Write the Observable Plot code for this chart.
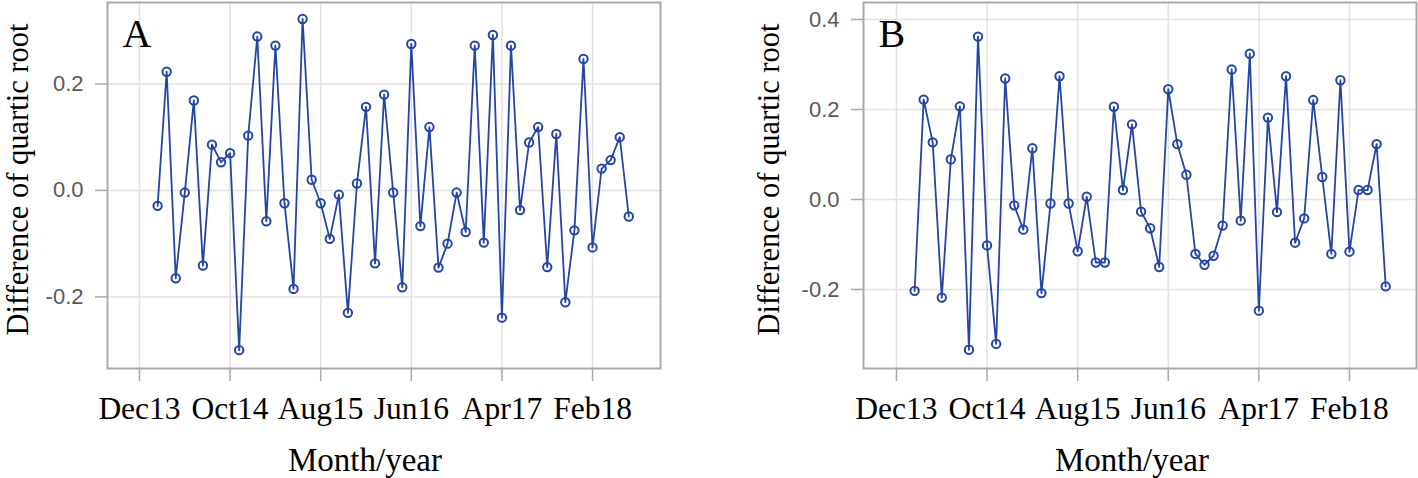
<!DOCTYPE html>
<html><head><meta charset="utf-8">
<script src="https://cdn.jsdelivr.net/npm/d3@7"></script>
<script src="https://cdn.jsdelivr.net/npm/@observablehq/plot@0.6"></script>
<style>
body{margin:0;background:#fff;}
#wrap{display:flex;width:1418px;height:478px;overflow:hidden;}
#wrap > div{width:709px;height:478px;}
</style>
</head><body><div id="wrap"><div id="pa"></div><div id="pb"></div></div>
<script>
// Month index 0 = Dec13; first observation Feb14
const tickMonths = [0, 10, 20, 30, 40, 50];
const tickLabels = ["Dec13", "Oct14", "Aug15", "Jun16", "Apr17", "Feb18"];
const firstMonth = 2;
const panelLabels = ["A", "B"];
const yLabel = "Difference of quartic root";
const xLabel = "Month/year";

const seriesA = [
  -0.029, 0.223, -0.165, -0.004, 0.169, -0.141, 0.086, 0.053, 0.070, -0.300,
  0.103, 0.289, -0.058, 0.272, -0.024, -0.185, 0.322, 0.020, -0.024, -0.091,
  -0.008, -0.230, 0.013, 0.157, -0.137, 0.180, -0.004, -0.182, 0.275, -0.067,
  0.119, -0.145, -0.100, -0.004, -0.078, 0.272, -0.098, 0.292, -0.239, 0.272,
  -0.037, 0.090, 0.119, -0.144, 0.106, -0.210, -0.075, 0.247, -0.107, 0.041,
  0.057, 0.100, -0.049
];
const seriesB = [
  -0.203, 0.222, 0.127, -0.218, 0.089, 0.207, -0.334, 0.362, -0.102, -0.321,
  0.269, -0.013, -0.067, 0.114, -0.208, -0.009, 0.274, -0.009, -0.115, 0.006,
  -0.140, -0.140, 0.206, 0.021, 0.167, -0.027, -0.064, -0.150, 0.245, 0.123,
  0.055, -0.121, -0.145, -0.125, -0.058, 0.289, -0.047, 0.324, -0.247, 0.182,
  -0.028, 0.274, -0.096, -0.042, 0.221, 0.050, -0.121, 0.265, -0.116, 0.021,
  0.021, 0.123, -0.193
];
const yTicksA = [-0.2, 0.0, 0.2];
const yTicksB = [-0.2, 0.0, 0.2, 0.4];

const blue = "#2245a6";
const gridColor = "#e2e2e2";
const frameColor = "#a7abaf";
const serif = "'Liberation Serif', 'Times New Roman', serif";
const sans = "'Liberation Sans', Arial, sans-serif";

function panel({values, yTicks, yDomain, xDomain, marginLeft, marginRight, letter, ylabDx, xlabDx}) {
  const data = values.map((v, i) => ({m: firstMonth + i, v}));
  return Plot.plot({
    width: 709,
    height: 478,
    marginLeft, marginRight,
    marginTop: 2,
    marginBottom: 110,
    x: {domain: xDomain},
    y: {domain: yDomain},
    style: {background: "white", overflow: "visible"},
    marks: [
      Plot.gridX(tickMonths, {stroke: gridColor, strokeOpacity: 1, strokeWidth: 1.5}),
      Plot.gridY(yTicks, {stroke: gridColor, strokeOpacity: 1, strokeWidth: 1.5}),
      Plot.line(data, {x: "m", y: "v", stroke: blue, strokeWidth: 1.8}),
      Plot.dot(data, {x: "m", y: "v", r: 4.2, stroke: blue, strokeWidth: 2, fill: "none"}),
      Plot.frame({stroke: frameColor, strokeWidth: 2}),
      Plot.axisX(tickMonths, {
        tickFormat: (d) => tickLabels[tickMonths.indexOf(d)],
        tickSize: 13, tickPadding: 15, stroke: frameColor, strokeWidth: 1.5,
        fill: "#000", fontSize: 31.5, fontFamily: serif, label: null
      }),
      Plot.axisY(yTicks, {
        tickFormat: (d) => d.toFixed(1),
        tickSize: 12, tickPadding: 12, stroke: frameColor, strokeWidth: 1.5,
        fill: "#595959", fontSize: 22, fontFamily: sans, label: null
      }),
      Plot.text([yLabel], {
        frameAnchor: "left", rotate: -90, lineAnchor: "bottom", textAnchor: "middle",
        dx: ylabDx, dy: -6, fontSize: 30.5, fontFamily: serif, fill: "#000"
      }),
      Plot.text([xLabel], {
        frameAnchor: "bottom", lineAnchor: "bottom", textAnchor: "middle",
        dx: xlabDx, dy: 102, fontSize: 33, fontFamily: serif, fill: "#000"
      }),
      Plot.text([letter], {
        frameAnchor: "top-left", lineAnchor: "bottom", textAnchor: "start",
        dx: 15, dy: 44, fontSize: 40, fontFamily: serif, fill: "#000"
      })
    ]
  });
}

document.getElementById("pa").append(panel({
  values: seriesA, yTicks: yTicksA, yDomain: [-0.3345, 0.353], xDomain: [-3.53, 57.5],
  marginLeft: 107, marginRight: 49, letter: panelLabels[0], ylabDx: -79.5, xlabDx: -19
}));
document.getElementById("pb").append(panel({
  values: seriesB, yTicks: yTicksB, yDomain: [-0.3756, 0.4378], xDomain: [-3.64, 57.4],
  marginLeft: 154, marginRight: 2, letter: panelLabels[1], ylabDx: -85, xlabDx: -8
}));
</script>
</body></html>
